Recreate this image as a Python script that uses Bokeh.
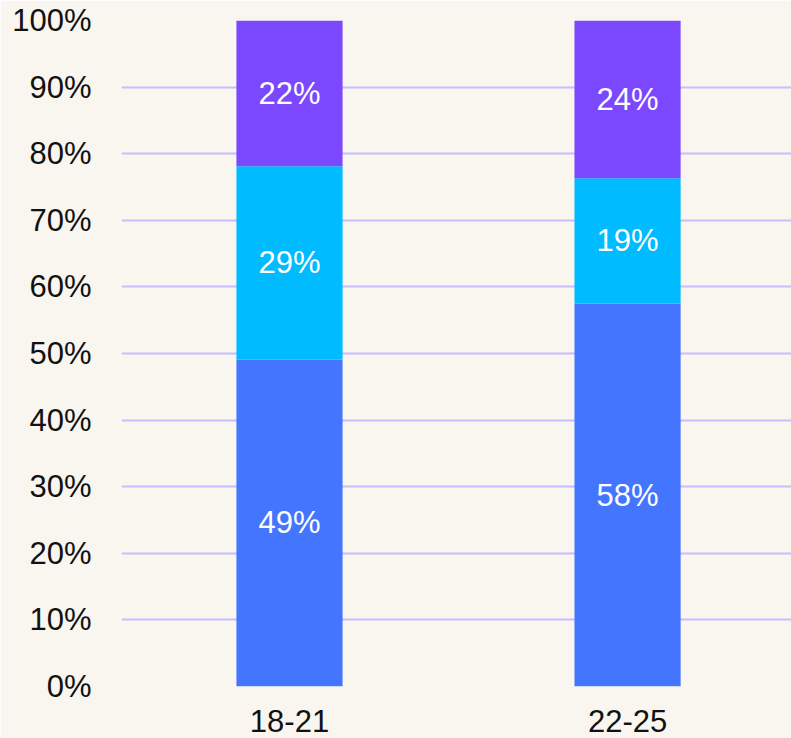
from bokeh.plotting import figure
from bokeh.models import ColumnDataSource, Range1d, FixedTicker, PrintfTickFormatter, LabelSet
from bokeh.core.properties import value
from bokeh.embed import file_html
from bokeh.resources import INLINE

categories = ["18-21", "22-25"]
series_names = ["Segment A", "Segment B", "Segment C"]
seg_a = [49.1, 57.5]
seg_b = [29.0, 18.8]
seg_c = [21.9, 23.7]
labels_a = ["49%", "58%"]
labels_b = ["29%", "19%"]
labels_c = ["22%", "24%"]
colors = ["#4475FF", "#00BBFF", "#7B47FF"]
y_ticks = [0, 10, 20, 30, 40, 50, 60, 70, 80, 90, 100]

BG = "#F9F5EF"
FONT = "Liberation Sans"

xs = list(range(len(categories)))
p = figure(width=791, height=738, output_backend="svg", toolbar_location=None,
           x_range=Range1d(-0.497, 1.485), y_range=Range1d(0, 100),
           min_border_left=121, min_border_right=0, min_border_top=20, min_border_bottom=52)
p.background_fill_color = BG
p.border_fill_color = BG
p.outline_line_color = None

bottoms = [0.0] * len(xs)
for vals, labs, col in zip([seg_a, seg_b, seg_c], [labels_a, labels_b, labels_c], colors):
    tops = [b + v for b, v in zip(bottoms, vals)]
    mids = [(b + t) / 2 for b, t in zip(bottoms, tops)]
    src = ColumnDataSource(dict(x=xs, bottom=bottoms, top=tops, mid=mids, lab=labs))
    p.vbar(x="x", bottom="bottom", top="top", width=0.314, source=src,
           fill_color=col, line_color=None)
    p.add_layout(LabelSet(x="x", y="mid", text="lab", source=src, text_color="white",
                          text_align="center", text_baseline="middle",
                          text_font=value(FONT), text_font_size="31px"))
    bottoms = tops

p.xgrid.grid_line_color = None
p.ygrid.grid_line_color = "#C6BEFF"
p.ygrid.grid_line_width = 2
p.ygrid.level = "underlay"

p.yaxis.ticker = FixedTicker(ticks=y_ticks)
p.yaxis.formatter = PrintfTickFormatter(format="%d%%")
p.xaxis.ticker = FixedTicker(ticks=xs)
p.xaxis.major_label_overrides = {i: c for i, c in zip(xs, categories)}
for ax in (p.xaxis, p.yaxis):
    ax.axis_line_color = None
    ax.major_tick_line_color = None
    ax.minor_tick_line_color = None
    ax.major_tick_out = 0
    ax.major_tick_in = 0
    ax.major_label_text_font = FONT
    ax.major_label_text_font_size = "31px"
    ax.major_label_text_color = "#111111"
p.yaxis.major_label_standoff = 30
p.xaxis.major_label_standoff = 23

open("out.html", "w").write(file_html(p, INLINE))
